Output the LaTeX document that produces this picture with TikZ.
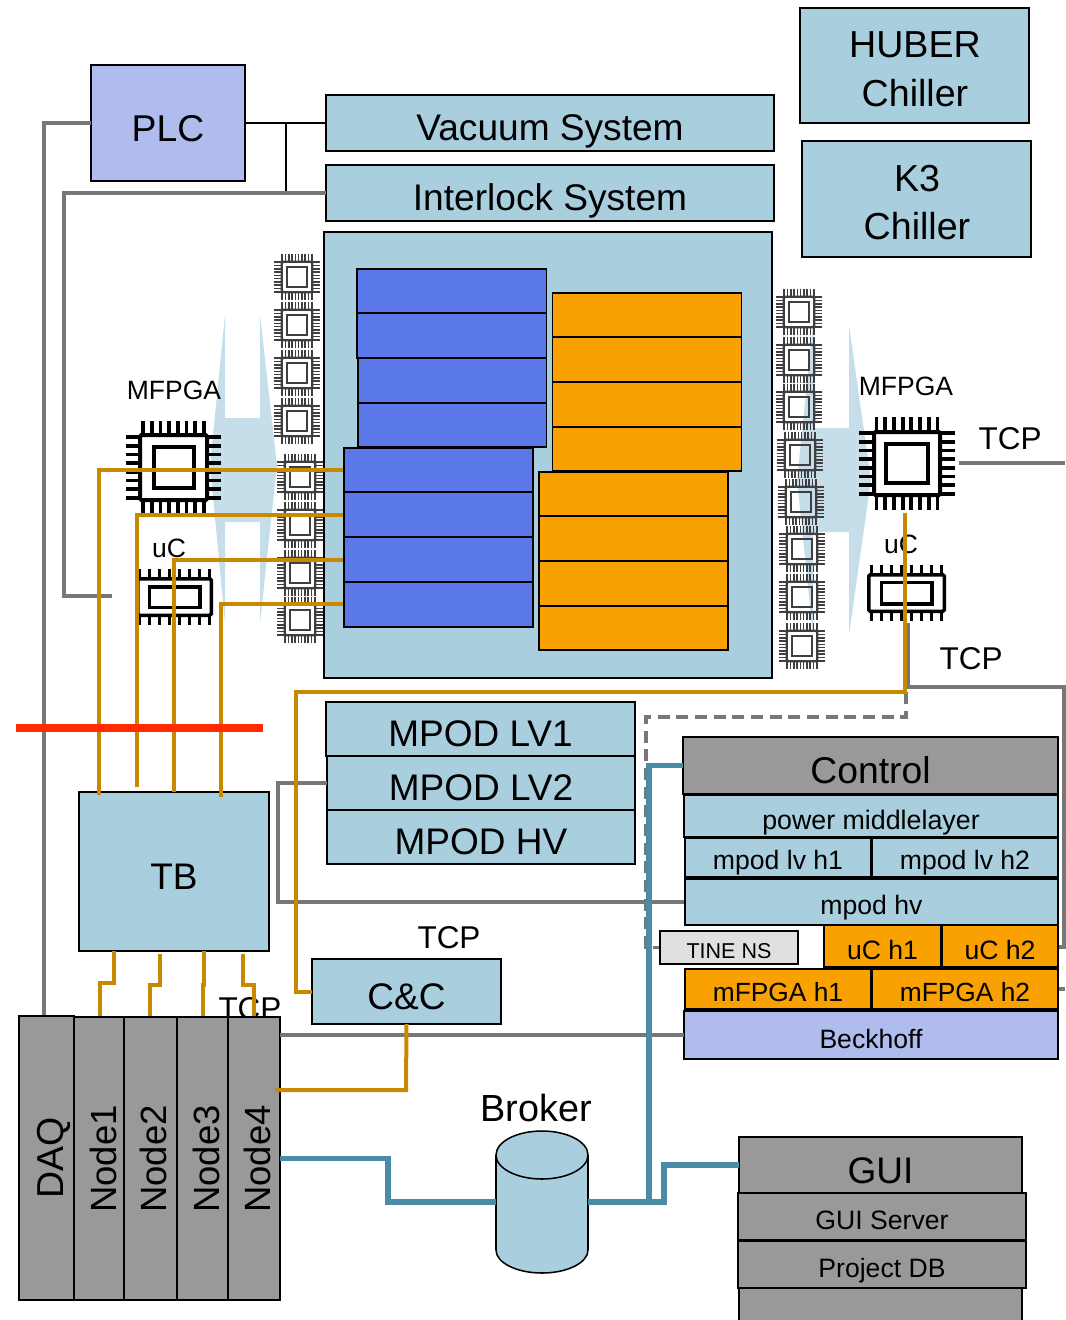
\documentclass[tikz,border=0pt]{standalone}
\usepackage{fontspec}
\setmainfont{Liberation Sans}
\definecolor{lblue}{HTML}{A9CFDF}
\definecolor{pale}{HTML}{C5DEE9}
\definecolor{periw}{HTML}{B0BCEE}
\definecolor{bblue}{HTML}{5B78E8}
\definecolor{oran}{HTML}{F8A100}
\definecolor{gbox}{HTML}{999999}
\definecolor{gline}{HTML}{777777}
\definecolor{ochre}{HTML}{C88800}
\definecolor{teal2}{HTML}{4A8BA5}
\definecolor{tine}{HTML}{E0E0E0}
\definecolor{redl}{HTML}{FF2A00}
\definecolor{chipg}{HTML}{3F3F3F}
\tikzset{
  boxb/.style={draw=black,line width=1.15pt,inner sep=0pt,outer sep=0pt,text=black},
  lb/.style={boxb,fill=lblue},
  pl/.style={boxb,fill=periw},
  gy/.style={boxb,fill=gbox},
  bb/.style={boxb,fill=bblue},
  ob/.style={boxb,fill=oran},
  tb/.style={boxb,fill=tine},
  greyl/.style={draw=gline,line width=3pt},
  midgrey/.style={draw=gline,line width=2.4pt},
  dashgrey/.style={draw=gline,line width=2.8pt,dash pattern=on 9pt off 5pt},
  ochrel/.style={draw=ochre,line width=3pt},
  teall/.style={draw=teal2,line width=3.8pt},
  redline/.style={draw=redl,line width=5.5pt},
  thinb/.style={draw=black,line width=0.8pt},
  paleshape/.style={fill=pale,draw=none},
  lab/.style={anchor=base,inner sep=0pt,outer sep=0pt}
}
% style, name, x1,y1,x2,y2, baseline, font px, text
\newcommand\bxa[9]{%
  \pgfmathsetmacro\bxW{(#5-#3)*0.75}\pgfmathsetmacro\bxH{(#6-#4)*0.75}%
  \pgfmathsetmacro\bxX{(#3+#5)/2}\pgfmathsetmacro\bxY{(#4+#6)/2}%
  \pgfmathsetmacro\bxR{(\bxY-#7)*0.75}\pgfmathsetmacro\bxF{#8*0.75}%
  \node[#1,minimum width=\bxW pt,minimum height=\bxH pt] (#2) at (\bxX,\bxY)
    {\fontsize{\bxF pt}{\bxF pt}\selectfont\smash{\raisebox{\bxR pt}{#9}}};%
}
% name, x, baseline, font px, text
\newcommand\txt[5]{%
  \pgfmathsetmacro\bxF{#4*0.75}%
  \node[lab] (#1) at (#2,#3) {\fontsize{\bxF pt}{\bxF pt}\selectfont #5};%
}
% name, x of baseline, y centre, font px, text (rotated)
\newcommand\rtxt[5]{%
  \pgfmathsetmacro\bxF{#4*0.75}%
  \node[lab,rotate=90] (#1) at (#2,#3) {\fontsize{\bxF pt}{\bxF pt}\selectfont #5};%
}
\def\pA#1/#2/#3/#4\relax{\def\cBW{#1}\def\cBH{#2}\def\cIW{#3}\def\cIH{#4}}
\def\pB#1/#2/#3/#4/#5\relax{\def\cNX{#1}\def\cSX{#2}\def\cNY{#3}\def\cSY{#4}\def\cPL{#5}}
% name, cx, cy, bw/bh/iw/ih, nx/sx/ny/sy/pinlen, line width, colour, fill, pin width
\newcommand\chip[9]{%
  \pA#4\relax\pB#5\relax
  \ifnum\cNX>0
  \foreach \i in {1,...,\cNX}{%
    \draw[#7,line width=#9pt] ({#2+(\i-(\cNX+1)/2)*\cSX},{#3-\cBH/2}) -- ++(0,-\cPL);
    \draw[#7,line width=#9pt] ({#2+(\i-(\cNX+1)/2)*\cSX},{#3+\cBH/2}) -- ++(0,\cPL);
  }\fi
  \ifnum\cNY>0
  \foreach \i in {1,...,\cNY}{%
    \draw[#7,line width=#9pt] ({#2-\cBW/2},{#3+(\i-(\cNY+1)/2)*\cSY}) -- ++(-\cPL,0);
    \draw[#7,line width=#9pt] ({#2+\cBW/2},{#3+(\i-(\cNY+1)/2)*\cSY}) -- ++(\cPL,0);
  }\fi
  \pgfmathsetmacro\bxW{\cBW*0.75}\pgfmathsetmacro\bxH{\cBH*0.75}%
  \pgfmathsetmacro\bxIW{\cIW*0.75}\pgfmathsetmacro\bxIH{\cIH*0.75}%
  \node[draw=#7,fill=#8,line width=#6*0.75pt,minimum width=\bxW pt,minimum height=\bxH pt,inner sep=0pt,rounded corners=1pt] (#1) at (#2,#3) {};
  \node[draw=#7,line width=#6*0.75pt,minimum width=\bxIW pt,minimum height=\bxIH pt,inner sep=0pt] (#1i) at (#2,#3) {};%
}
\newcommand\smchip[3]{\chip{#1}{#2}{#3}{30.5/30.5/19.5/19.5}{10/3.3/10/3.3/7.5}{2.4}{chipg}{none}{1.25}}
\begin{document}
\begin{tikzpicture}[x=0.75pt,y=-0.75pt]
\useasboundingbox (0,0) rectangle (1065,1320);

% pale double arrows
\fill[paleshape] (225,315) -- (225,418) -- (260,418) -- (260,315) -- (277,465) -- (260,623) -- (260,522) -- (225,522) -- (225,623) -- (210,465) -- cycle;
\fill[paleshape] (849,325) -- (849,428) -- (813,428) -- (813,325) -- (797,480) -- (813,635) -- (813,532) -- (849,532) -- (849,635) -- (871,480) -- cycle;

% top boxes
\bxa{lb}{huber}{800}{8}{1029}{123}{0}{36.5}{}
\txt{huberA}{915}{58}{37.6}{HUBER}
\txt{huberB}{915}{107}{37.6}{Chiller}
\bxa{lb}{kthree}{802}{141}{1031}{257}{0}{36.5}{}
\txt{kA}{917}{191}{37.6}{K3}
\txt{kB}{917}{239}{37.6}{Chiller}
\bxa{pl}{plc}{91}{65}{245}{181}{141}{37.3}{PLC}
\bxa{lb}{vacuum}{326}{95}{774}{151}{140}{37.1}{Vacuum System}
\bxa{lb}{interlock}{326}{165}{774}{221}{210}{37.1}{Interlock System}

% big detector box
\bxa{lb}{detector}{324}{232}{772}{678}{0}{10}{}
\foreach \n/\a/\b in {a/269/313,b/313/358,c/358/403,d/403/447}{
  \pgfmathsetmacro\xl{\a<350?357:358}
  \bxa{bb}{bu\n}{\xl}{\a}{546.5}{\b}{0}{10}{}
}
\foreach \n/\a/\b in {a/448/492,b/492/537,c/537/582,d/582/627}{
  \bxa{bb}{bl\n}{344}{\a}{533}{\b}{0}{10}{}
}
\foreach \n/\a/\b in {a/293/337,b/337/382,c/382/427,d/427/471}{
  \bxa{ob}{ou\n}{552.5}{\a}{741.5}{\b}{0}{10}{}
}
\foreach \n/\a/\b in {a/472/516,b/516/561,c/561/606,d/606/650}{
  \bxa{ob}{ol\n}{539}{\a}{728}{\b}{0}{10}{}
}

% small chips
\smchip{sla}{297}{277}
\smchip{slb}{297}{325}
\smchip{slc}{297}{373}
\smchip{sld}{297}{421}
\smchip{sle}{300}{477}
\smchip{slf}{300}{525}
\smchip{slg}{300}{573}
\smchip{slh}{300}{620}
\smchip{sra}{799}{312}
\smchip{srb}{799}{360}
\smchip{src}{799}{407}
\smchip{srd}{800}{455}
\smchip{sre}{801}{502}
\smchip{srf}{802}{549}
\smchip{srg}{802}{597}
\smchip{srh}{802}{646}

% big chips
\chip{mfpgaL}{173.5}{467.5}{67/65/40/41}{8/8.7/8/8.7/14}{4}{black}{white}{2.9}
\chip{mfpgaR}{907}{463.5}{66/63/42/39}{8/8.7/8/8.7/15}{4}{black}{white}{2.9}
\chip{ucL}{174.5}{597}{73.5/36.5/50.5/20.5}{8/10/0/0/9.5}{3.5}{black}{white}{2.9}
\chip{ucR}{906.5}{593}{75.5/36.5/50.5/21.5}{8/10/0/0/10}{3.5}{black}{white}{2.9}
\txt{lmfpgaL}{174}{399}{26.5}{MFPGA}
\txt{lmfpgaR}{906}{395}{26.5}{MFPGA}
\txt{lucL}{169}{557}{26.5}{uC}
\txt{lucR}{901}{553}{26.5}{uC}

% grey connectors (behind boxes)
\draw[greyl] (plc.west) -- (44,123) -- (44,1016);
\draw[thinb] (plc.east) -- (vacuum.west);
\draw[thinb] (286,123) -- (286,193 |- interlock.west);
\draw[greyl] (interlock.west) -- (64,193) -- (64,596) -- (112,596);
\coordinate (tcpend) at (1065,463);
\draw[greyl] (959,463) -- (tcpend);
\draw[midgrey] (908,623) -- (908,687) -- (1064,687) -- (1064,947) -- (1058,947);
\draw[midgrey] (1058,989) -- (1065,989);
\draw[dashgrey] (906,692) -- (906,717) -- (646,717) -- (646,947.5) -- (660,947.5);

% MPOD
\bxa{lb}{lvone}{326}{702}{635}{756}{746}{37}{MPOD LV1}
\bxa{lb}{lvtwo}{327}{756}{635}{810}{800}{37}{MPOD LV2}
\bxa{lb}{mpodhv}{327}{810}{635}{864}{854}{37}{MPOD HV}

% TB, C&C
\bxa{lb}{tb}{79}{792}{269}{951}{889}{37}{TB}
\bxa{lb}{cc}{312}{959}{501}{1024}{1009}{37}{C\&C}
\txt{tcpA}{1010}{449}{31.5}{TCP}
\txt{tcpB}{971}{669}{31.5}{TCP}
\txt{tcpC}{449}{948}{31.5}{TCP}
\txt{tcpD}{250}{1019}{31.5}{TCP}

% control stack
\draw[midgrey] (lvtwo.west) -- (278,783) -- (278,902) -- (685,902);
\bxa{gy}{control}{683}{737}{1058}{794}{783}{37.3}{Control}
\bxa{lb}{power}{684}{795}{1058}{837}{829}{26.8}{power middlelayer}
\bxa{lb}{lvhA}{685}{838}{871}{877}{869}{26.6}{mpod lv h1}
\bxa{lb}{lvhB}{872}{838}{1058}{877}{869}{26.6}{mpod lv h2}
\bxa{lb}{hv}{685}{879}{1058}{925}{914}{26.6}{mpod hv}
\bxa{tb}{tinens}{660}{931}{798}{964}{958}{21.5}{TINE NS}
\bxa{ob}{uchA}{824}{925}{941}{967}{959}{26.6}{uC h1}
\bxa{ob}{uchB}{942}{925}{1058}{967}{959}{26.6}{uC h2}
\bxa{ob}{mfhA}{685}{969}{871}{1009}{1001}{26.3}{mFPGA h1}
\bxa{ob}{mfhB}{872}{969}{1058}{1009}{1001}{26.3}{mFPGA h2}
\bxa{pl}{beckhoff}{684}{1011}{1058}{1059}{1048}{26.6}{Beckhoff}

% Nodes
\bxa{gy}{daq}{19}{1016}{74}{1300}{0}{10}{}
\bxa{gy}{nodeA}{74}{1017}{124}{1300}{0}{10}{}
\bxa{gy}{nodeB}{124}{1017}{177}{1300}{0}{10}{}
\bxa{gy}{nodeC}{177}{1017}{228}{1300}{0}{10}{}
\bxa{gy}{nodeD}{228}{1017}{280}{1300}{0}{10}{}
\rtxt{ldaq}{63}{1157.5}{37.5}{DAQ}
\rtxt{lnA}{116}{1159}{36.5}{Node1}
\rtxt{lnB}{166}{1159}{36.5}{Node2}
\rtxt{lnC}{219}{1159}{36.5}{Node3}
\rtxt{lnD}{270}{1159}{36.5}{Node4}

\draw[greyl] (nodeD.east |- beckhoff.west) -- (beckhoff.west);

% ochre connectors
\draw[ochrel] (905,513) -- (905,692) -- (296,692) -- (296,991.5) -- (cc.west);
\draw[ochrel] (343,470) -- (99,470) -- (99,795);
\draw[ochrel] (343,515) -- (137,515) -- (137,787);
\draw[ochrel] (343,560) -- (174,560) -- (174,792);
\draw[ochrel] (343,604) -- (221,604) -- (221,797);
\draw[ochrel] (114,951) -- (114,983) -- (100,983) -- (100,1016);
\draw[ochrel] (160,954) -- (160,985) -- (150,985) -- (150,1016);
\draw[ochrel] (204,951) -- (204,985) -- (203,985) -- (203,1016);
\draw[ochrel] (243,954) -- (243,985) -- (254,985) -- (254,1016);
\draw[ochrel] (cc.south) -- (406,1090) -- (275,1090);

% red
\draw[redline] (16,728) -- (263,728);

% GUI
\bxa{gy}{gui}{739}{1137}{1022}{1193}{1183}{37}{GUI}
\bxa{gy}{gextra}{739}{1288}{1022}{1330}{0}{10}{}
\bxa{gy}{guiserver}{738}{1193}{1026}{1240}{1229}{26.6}{GUI Server}
\bxa{gy}{projdb}{738}{1241}{1026}{1288}{1277}{26.6}{Project DB}

% Broker
\draw[boxb,fill=lblue] (496,1155) -- (496,1250) arc[start angle=180,end angle=0,x radius=46,y radius=23] -- (588,1155);
\draw[boxb,fill=lblue] (542,1155) ellipse[x radius=46,y radius=24];
\node[inner sep=0pt,outer sep=0pt,minimum width=69pt,minimum height=106.5pt] (broker) at (542,1202) {};
\txt{lbroker}{536}{1121}{37.8}{Broker}

% teal
\draw[teall] (nodeD.east) -- (388,1158.5) -- (388,1202) -- (broker.west);
\draw[teall] (broker.east) -- (649,1202) -- (649,765.5) -- (control.west);
\draw[teall] (broker.east) -- (664,1202) -- (664,1165) -- (gui.west);
\end{tikzpicture}
\end{document}
